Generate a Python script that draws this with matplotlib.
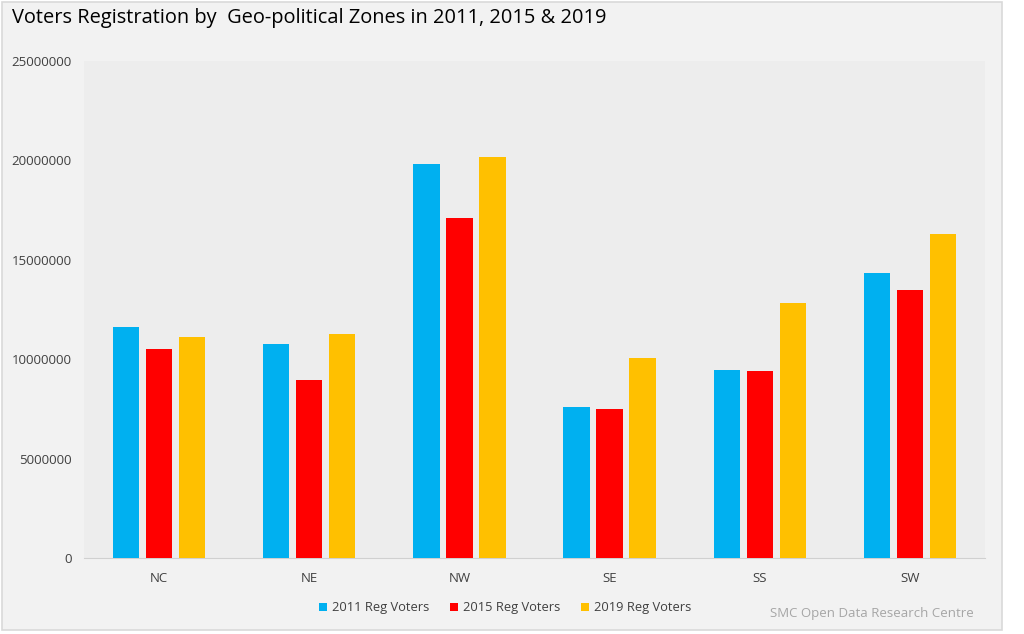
import matplotlib
matplotlib.use("Agg")
import matplotlib.pyplot as plt
from matplotlib.patches import Rectangle
import numpy as np

zones = ["NC", "NE", "NW", "SE", "SS", "SW"]
reg_2011 = [11630000, 10750000, 19820000, 7580000, 9470000, 14320000]
reg_2015 = [10500000, 8940000, 17100000, 7510000, 9410000, 13480000]
reg_2019 = [11131112, 11289293, 20158100, 10057130, 12841279, 16292212]
series_labels = ["2011 Reg Voters", "2015 Reg Voters", "2019 Reg Voters"]
colors = ["#00B0F0", "#FF0000", "#FFC000"]
yticks = [0, 5000000, 10000000, 15000000, 20000000, 25000000]

plt.rcParams['font.family'] = ['Open Sans', 'DejaVu Sans']

fig = plt.figure(figsize=(10.24, 6.34), dpi=100, facecolor="white")
fig.patches.append(Rectangle((2/1024, 4/634), 1000/1024, 628/634, transform=fig.transFigure,
                             facecolor="#f2f2f2", edgecolor="#d9d9d9", lw=1.2, zorder=-10))
ax = fig.add_axes([84/1024, 76/634, 901/1024, 497/634])
ax.set_facecolor("#ededed")

x = np.arange(len(zones))
offs = [-0.22, 0.0, 0.22]
w = 0.175
for vals, off, c, lab in zip([reg_2011, reg_2015, reg_2019], offs, colors, series_labels):
    ax.bar(x + off, vals, width=w, color=c, label=lab, zorder=3)

ax.set_xlim(-0.5, len(zones) - 0.5)
ax.set_ylim(0, 25000000)
ax.set_yticks(yticks)
ax.set_yticklabels([str(v) for v in yticks])
ax.set_xticks(x)
ax.set_xticklabels(zones)
ax.tick_params(axis='both', length=0, labelsize=9.5, colors="#404040")
ax.tick_params(axis='y', pad=9)
ax.tick_params(axis='x', pad=10)
for s in ["top", "right", "left"]:
    ax.spines[s].set_visible(False)
ax.spines["bottom"].set_color("#d0d0d0")

fig.text(12/1024, 1 - 18/634, "Voters Registration by  Geo-political Zones in 2011, 2015 & 2019",
         fontsize=14.4, color="#000000", va="center", ha="left")

fig.legend(loc="center", bbox_to_anchor=(505/1024, 1 - 608/634), ncol=3, frameon=False,
           fontsize=9.3, handlelength=0.6, handleheight=0.6, handletextpad=0.4,
           columnspacing=1.6, labelcolor="#404040")

fig.text(974/1024, 1 - 614/634, "SMC Open Data Research Centre", fontsize=9.5,
         color="#a6a6a6", ha="right", va="center")

fig.savefig("out.png", dpi=100, facecolor=fig.get_facecolor())
